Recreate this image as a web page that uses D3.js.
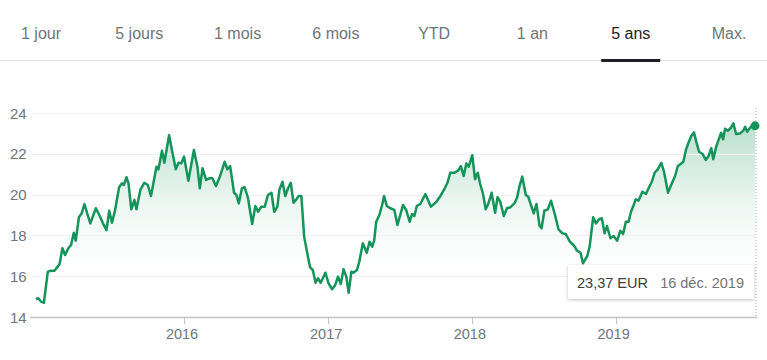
<!DOCTYPE html>
<html><head><meta charset="utf-8">
<script src="https://cdn.jsdelivr.net/npm/d3@7/dist/d3.min.js"></script>
<style>
html,body{margin:0;padding:0;background:#fff;}
svg{display:block;font-family:"Liberation Sans",Arial,sans-serif;}
</style></head>
<body><svg id="c" width="767" height="360"></svg>
<script>
// ---- data ----
const tabLabels = ["1 jour","5 jours","1 mois","6 mois","YTD","1 an","5 ans","Max."];
const activeTab = "5 ans";
const yTicks = [14,16,18,20,22,24];
const xTickYears = ["2016","2017","2018","2019"];
const dates = [
"2014-12-16","2014-12-22","2014-12-29","2015-01-05","2015-01-15","2015-01-23","2015-02-01","2015-02-09","2015-02-14","2015-02-21",
"2015-02-28","2015-03-08","2015-03-15","2015-03-22","2015-03-27","2015-04-04","2015-04-11","2015-04-18","2015-04-25","2015-05-03",
"2015-05-17","2015-05-27","2015-06-04","2015-06-13","2015-06-20","2015-06-27","2015-07-05","2015-07-15","2015-07-22","2015-07-27",
"2015-08-03","2015-08-08","2015-08-15","2015-08-23","2015-08-28","2015-09-07","2015-09-17","2015-09-26","2015-10-04","2015-10-18",
"2015-10-23","2015-11-01","2015-11-07","2015-11-19","2015-11-28","2015-12-06","2015-12-13","2015-12-20","2015-12-27","2016-01-07",
"2016-01-21","2016-01-30","2016-02-05","2016-02-12","2016-02-21","2016-02-29","2016-03-08","2016-03-17","2016-03-27","2016-04-08",
"2016-04-15","2016-04-22","2016-05-02","2016-05-08","2016-05-14","2016-05-22","2016-05-29","2016-06-06","2016-06-17","2016-06-25",
"2016-07-02","2016-07-10","2016-07-19","2016-07-27","2016-08-05","2016-08-12","2016-08-20","2016-08-25","2016-09-02","2016-09-09",
"2016-09-16","2016-09-23","2016-09-30","2016-10-06","2016-10-13","2016-10-20","2016-10-27","2016-11-04","2016-11-11","2016-11-18",
"2016-11-25","2016-12-01","2016-12-08","2016-12-20","2016-12-28","2017-01-06","2017-01-14","2017-01-21","2017-01-28","2017-02-04",
"2017-02-11","2017-02-17","2017-02-24","2017-03-01","2017-03-10","2017-03-16","2017-03-25","2017-04-04","2017-04-11","2017-04-18",
"2017-04-23","2017-04-28","2017-05-06","2017-05-13","2017-05-18","2017-05-25","2017-06-03","2017-06-13","2017-06-21","2017-07-05",
"2017-07-13","2017-07-22","2017-07-28","2017-08-03","2017-08-09","2017-08-18","2017-08-31","2017-09-14","2017-09-28","2017-10-08",
"2017-10-19","2017-10-26","2017-11-02","2017-11-12","2017-11-22","2017-11-29","2017-12-06","2017-12-13","2017-12-19","2017-12-28",
"2018-01-04","2018-01-11","2018-01-17","2018-01-24","2018-01-31","2018-02-07","2018-02-15","2018-02-24","2018-03-02","2018-03-09",
"2018-03-18","2018-03-26","2018-04-04","2018-04-15","2018-04-21","2018-04-27","2018-05-04","2018-05-13","2018-05-19","2018-05-28",
"2018-06-02","2018-06-09","2018-06-17","2018-06-22","2018-06-29","2018-07-08","2018-07-16","2018-07-25","2018-08-04","2018-08-14",
"2018-08-22","2018-09-02","2018-09-13","2018-09-20","2018-09-29","2018-10-05","2018-10-16","2018-10-22","2018-10-31","2018-11-07",
"2018-11-15","2018-11-22","2018-11-29","2018-12-05","2018-12-14","2018-12-22","2018-12-31","2019-01-08","2019-01-15","2019-01-22",
"2019-01-29","2019-02-04","2019-02-10","2019-02-16","2019-02-23","2019-03-05","2019-03-14","2019-03-22","2019-03-29","2019-04-05",
"2019-04-13","2019-04-22","2019-04-29","2019-05-09","2019-05-17","2019-05-27","2019-06-03","2019-06-10","2019-06-17","2019-06-24",
"2019-06-30","2019-07-07","2019-07-14","2019-07-21","2019-07-27","2019-08-05","2019-08-13","2019-08-20","2019-08-27","2019-09-01",
"2019-09-08","2019-09-15","2019-09-21","2019-09-26","2019-10-01","2019-10-08","2019-10-15","2019-10-22","2019-10-29","2019-11-08",
"2019-11-16","2019-11-21","2019-11-26","2019-12-05","2019-12-16"];
const prices = [
14.87,14.92,14.75,14.70,16.22,16.27,16.27,16.47,16.60,17.37,
17.04,17.37,17.53,18.13,17.74,18.89,19.08,19.54,19.08,18.59,
19.33,18.95,18.59,18.26,19.21,18.62,19.25,20.36,20.55,20.47,
20.85,20.55,19.28,19.74,19.28,20.23,20.58,20.47,19.93,21.37,
21.24,22.15,21.56,22.91,22.02,21.24,21.56,21.53,21.86,20.68,
22.19,21.37,20.31,21.29,20.72,20.80,20.80,20.42,20.88,21.61,
21.24,21.40,20.09,19.98,19.57,20.31,20.36,19.87,18.56,19.44,
19.16,19.41,19.41,19.98,20.09,19.16,19.41,20.23,20.63,19.93,
20.31,20.58,19.60,19.74,19.93,19.93,17.94,17.12,16.44,16.30,
15.68,15.90,15.68,16.17,15.65,15.36,15.57,15.98,15.62,16.34,
15.98,15.19,16.22,16.17,16.30,16.71,17.61,17.15,17.69,17.45,
17.77,18.67,19.00,19.49,19.93,19.44,19.33,19.25,18.51,19.49,
19.25,18.67,19.05,18.95,19.44,19.54,20.03,19.41,19.65,19.93,
20.31,20.58,21.07,21.07,21.17,21.40,20.91,21.53,21.37,21.93,
20.75,21.07,20.52,20.06,19.28,19.57,20.09,19.11,19.87,19.65,
18.95,19.33,19.38,19.60,19.87,20.42,20.88,19.98,19.90,19.38,
19.08,19.54,18.46,18.35,19.21,19.28,19.70,19.08,18.30,18.10,
18.07,17.69,17.48,17.25,17.15,16.63,16.99,17.45,18.89,18.59,
18.79,18.84,18.10,18.46,17.86,17.97,17.74,18.23,18.07,18.67,
18.67,19.16,19.44,19.77,19.70,20.14,20.03,20.36,20.63,21.07,
21.24,21.56,21.12,20.09,20.47,20.91,21.40,21.50,21.61,22.22,
22.54,22.87,23.05,22.51,22.10,21.99,21.70,21.89,22.27,21.73,
22.32,22.71,23.03,22.71,23.23,23.13,23.25,23.49,22.97,23.00,
23.13,23.32,23.08,23.32,23.37];
const tooltipPrice = "23,37 EUR";
const tooltipDate = "16 déc. 2019";

// ---- drawing ----
const svg = d3.select("#c");
const green = "#14945a";
const grey = "#70757a";
const parse = d3.utcParse("%Y-%m-%d");
const data = dates.map((d,i)=>({date:parse(d), v:prices[i]}));

// tabs
const tabX = d3.scalePoint().domain(tabLabels).range([41,729]);
svg.append("line").attr("x1",0).attr("x2",767).attr("y1",60.5).attr("y2",60.5)
  .attr("stroke","#e3e3e3").attr("stroke-width",1);
svg.selectAll("text.tab").data(tabLabels).join("text").attr("class","tab")
  .attr("x",d=>tabX(d)).attr("y",39).attr("text-anchor","middle")
  .attr("font-size",16).attr("fill",d=>d===activeTab?"#202124":grey).text(d=>d);
svg.append("rect").attr("x",tabX(activeTab)-29.5).attr("y",59).attr("width",59).attr("height",3)
  .attr("fill","#202124");

// scales
const x = d3.scaleUtc().domain([data[0].date, data[data.length-1].date]).range([36,755]);
const y = d3.scaleLinear().domain([14,24]).range([317,113]);

// gradient
const defs = svg.append("defs");
const grad = defs.append("linearGradient").attr("id","g").attr("gradientUnits","userSpaceOnUse")
  .attr("x1",0).attr("x2",0).attr("y1",y(24)).attr("y2",y(16.5));
grad.append("stop").attr("offset",0).attr("stop-color",green).attr("stop-opacity",0.32);
grad.append("stop").attr("offset",0.6).attr("stop-color",green).attr("stop-opacity",0.08);
grad.append("stop").attr("offset",1).attr("stop-color",green).attr("stop-opacity",0);

// area
svg.append("path").datum(data)
  .attr("d",d3.area().x(d=>x(d.date)).y0(y(14)).y1(d=>y(d.v)))
  .attr("fill","url(#g)");

// gridlines
svg.selectAll("line.grid").data(yTicks.slice(1)).join("line").attr("class","grid")
  .attr("x1",32).attr("x2",757).attr("y1",d=>Math.round(y(d))+0.5).attr("y2",d=>Math.round(y(d))+0.5)
  .attr("stroke","#f1f1f1").attr("stroke-width",1);

// y labels
svg.selectAll("text.yl").data(yTicks).join("text").attr("class","yl")
  .attr("x",10).attr("y",d=>y(d)+5.5).attr("font-size",15).attr("fill",grey).text(d=>d);

// x axis
svg.append("line").attr("x1",30).attr("x2",757).attr("y1",317.5).attr("y2",317.5)
  .attr("stroke","#c4c4c4").attr("stroke-width",1.5);
const yearDates = xTickYears.map(s=>parse(s+"-01-01"));
svg.selectAll("line.xt").data(yearDates).join("line").attr("class","xt")
  .attr("x1",d=>Math.round(x(d))-1.5).attr("x2",d=>Math.round(x(d))-1.5)
  .attr("y1",317).attr("y2",324).attr("stroke","#c4c4c4").attr("stroke-width",1);
svg.selectAll("text.xl").data(yearDates).join("text").attr("class","xl")
  .attr("x",d=>x(d)-4).attr("y",339).attr("text-anchor","middle")
  .attr("font-size",14.5).attr("fill",grey).text(d=>d3.utcFormat("%Y")(d));

// dotted vertical
const last = data[data.length-1];
svg.append("line").attr("x1",x(last.date)+1).attr("x2",x(last.date)+1).attr("y1",108).attr("y2",317)
  .attr("stroke","#aaa").attr("stroke-width",1).attr("stroke-dasharray","1,2");

// line
svg.append("path").datum(data)
  .attr("d",d3.line().x(d=>x(d.date)).y(d=>y(d.v)))
  .attr("fill","none").attr("stroke",green).attr("stroke-width",2.5).attr("stroke-linejoin","round");

svg.append("circle").attr("cx",x(last.date)).attr("cy",y(last.v)).attr("r",4.5).attr("fill",green);

// tooltip
const f = defs.append("filter").attr("id","sh").attr("x","-10%").attr("y","-30%").attr("width","120%").attr("height","170%");
f.append("feDropShadow").attr("dx",0).attr("dy",1).attr("stdDeviation",1.5).attr("flood-color","#000").attr("flood-opacity",0.25);
svg.append("rect").attr("x",568).attr("y",265).attr("width",186).attr("height",34)
  .attr("fill","#fff").attr("filter","url(#sh)");
svg.append("text").attr("x",577).attr("y",288).attr("font-size",14.5).attr("fill","#3c4043").text(tooltipPrice);
svg.append("text").attr("x",744).attr("y",288).attr("text-anchor","end").attr("font-size",14.5).attr("fill",grey).text(tooltipDate);
</script></body></html>
